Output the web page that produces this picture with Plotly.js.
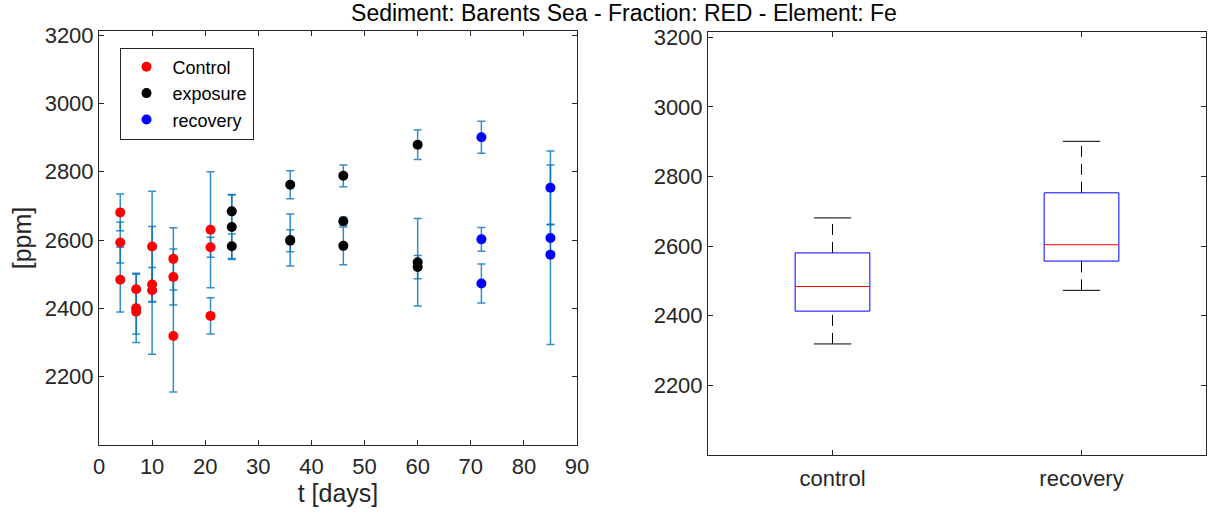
<!DOCTYPE html>
<html>
<head>
<meta charset="utf-8">
<script src="https://cdn.plot.ly/plotly-3.0.1.min.js"></script>
<style>html,body{margin:0;padding:0;background:#fff;}#chart{width:1219px;height:515px;}</style>
</head>
<body>
<div id="chart"></div>
<script>
// ---- data ----
var controlDays = [4, 4, 4, 7, 7, 7, 10, 10, 10, 14, 14, 14, 21, 21, 21];
var controlPpm  = [2681, 2593, 2484, 2456, 2400, 2390, 2581, 2470, 2453, 2545, 2492, 2319, 2630, 2579, 2378];
var controlErr  = [54, 60, 95, 47, 100, 65, 162, 50, 187, 91, 82, 164, 170, 29, 53];

var exposureDays = [25, 25, 25, 36, 36, 36, 46, 46, 46, 60, 60, 60];
var exposurePpm  = [2684, 2638, 2582, 2762, 2600, 2598, 2788, 2655, 2583, 2879, 2535, 2521];
var exposureErr  = [48, 95, 36, 41, 76, 32, 32, 12, 55, 43, 128, 34];

var recoveryDays = [72, 72, 72, 85, 85, 85];
var recoveryPpm  = [2901, 2602, 2473, 2753, 2606, 2557];
var recoveryErr  = [47, 35, 57, 108, 40, 263];

var boxGroups = ['control', 'recovery'];
var yTicks = [2200, 2400, 2600, 2800, 3000, 3200];
var xTicks = [0, 10, 20, 30, 40, 50, 60, 70, 80, 90];

// ---- styling ----
var FONT = 'Liberation Sans, Arial, Helvetica, sans-serif';
var AX = '#262626';
var errColor = 'rgba(0,114,189,0.8)';

function scatterSeries(name, xs, ys, errs, color) {
  return {
    type: 'scatter', mode: 'markers', name: name, x: xs, y: ys,
    xaxis: 'x', yaxis: 'y',
    marker: {color: color, size: 10},
    error_y: {type: 'data', array: errs, visible: true, color: errColor, thickness: 1.5, width: 4}
  };
}

// MATLAB-style quantile (midpoint interpolation)
function quant(sorted, p) {
  var n = sorted.length;
  var pos = p * n + 0.5; // 1-based
  if (pos <= 1) return sorted[0];
  if (pos >= n) return sorted[n - 1];
  var lo = Math.floor(pos), f = pos - lo;
  return sorted[lo - 1] + f * (sorted[lo] - sorted[lo - 1]);
}

function boxTraces(vals, center) {
  var s = vals.slice().sort(function(a, b){return a - b;});
  var q1 = quant(s, 0.25), med = quant(s, 0.5), q3 = quant(s, 0.75);
  var iqr = q3 - q1;
  var upLim = q3 + 1.5 * iqr, loLim = q1 - 1.5 * iqr;
  var upW = s.filter(function(v){return v <= upLim;}).pop();
  var loW = s.filter(function(v){return v >= loLim;})[0];
  var hw = 0.15, cw = 0.075;
  var base = {type: 'scatter', mode: 'lines', xaxis: 'x2', yaxis: 'y2', showlegend: false, hoverinfo: 'skip'};
  function t(x, y, line) { return Object.assign({}, base, {x: x, y: y, line: line}); }
  return [
    t([center, center], [q3, upW], {color: '#000', width: 1, dash: '11px,7px'}),
    t([center, center], [loW, q1], {color: '#000', width: 1, dash: '11px,7px'}),
    t([center - cw, center + cw], [upW, upW], {color: '#000', width: 1}),
    t([center - cw, center + cw], [loW, loW], {color: '#000', width: 1}),
    t([center - hw, center + hw, center + hw, center - hw, center - hw], [q1, q1, q3, q3, q1], {color: '#0000FF', width: 1}),
    t([center - hw, center + hw], [med, med], {color: '#FF0000', width: 1})
  ];
}

var data = [
  scatterSeries('Control', controlDays, controlPpm, controlErr, '#FF0000'),
  scatterSeries('exposure', exposureDays, exposurePpm, exposureErr, '#000000'),
  scatterSeries('recovery', recoveryDays, recoveryPpm, recoveryErr, '#0000FF')
].concat(boxTraces(controlPpm, 1), boxTraces(recoveryPpm, 2));

function axisBase(extra) {
  return Object.assign({
    showline: true, mirror: 'ticks', linecolor: AX, linewidth: 1,
    ticks: 'inside', ticklen: 5, tickcolor: AX, tickwidth: 1,
    showgrid: false, zeroline: false,
    tickfont: {family: FONT, size: 22, color: AX}
  }, extra);
}

var layout = {
  width: 1219, height: 515,
  margin: {l: 0, r: 0, t: 0, b: 0},
  paper_bgcolor: '#fff', plot_bgcolor: '#fff',
  font: {family: FONT, color: AX},
  title: {text: 'Sediment: Barents Sea - Fraction: RED - Element: Fe',
          font: {family: FONT, size: 23, color: '#000'},
          x: 624 / 1219, xanchor: 'center', xref: 'paper', y: 1 - 13 / 515, yanchor: 'middle', yref: 'container'},
  xaxis: axisBase({domain: [99 / 1219, 577 / 1219], range: [0, 90], tickvals: xTicks, anchor: 'y',
    ticklabelstandoff: 2,
    title: {text: 't [days]', font: {family: FONT, size: 25, color: AX}, standoff: 4}}),
  yaxis: axisBase({domain: [70 / 515, 484 / 515], range: [2000, 3212], tickvals: yTicks, anchor: 'x',
    title: {text: '[ppm]', font: {family: FONT, size: 25, color: AX}, standoff: 5}}),
  xaxis2: axisBase({domain: [708 / 1219, 1206 / 1219], range: [0.5, 2.5], tickvals: [1, 2], ticktext: boxGroups, anchor: 'y2',
    ticklabelstandoff: 4}),
  yaxis2: axisBase({domain: [60 / 515, 483 / 515], range: [2000, 3215], tickvals: yTicks, anchor: 'x2'}),
  legend: {x: 119.5 / 1219, y: 1 - 47.5 / 515, xanchor: 'left', yanchor: 'top',
           bordercolor: AX, borderwidth: 1, bgcolor: '#fff', itemwidth: 42,
           font: {family: FONT, size: 18, color: '#000'}},
  showlegend: true
};

Plotly.newPlot('chart', data, layout, {displayModeBar: false, staticPlot: true});
</script>
</body>
</html>
